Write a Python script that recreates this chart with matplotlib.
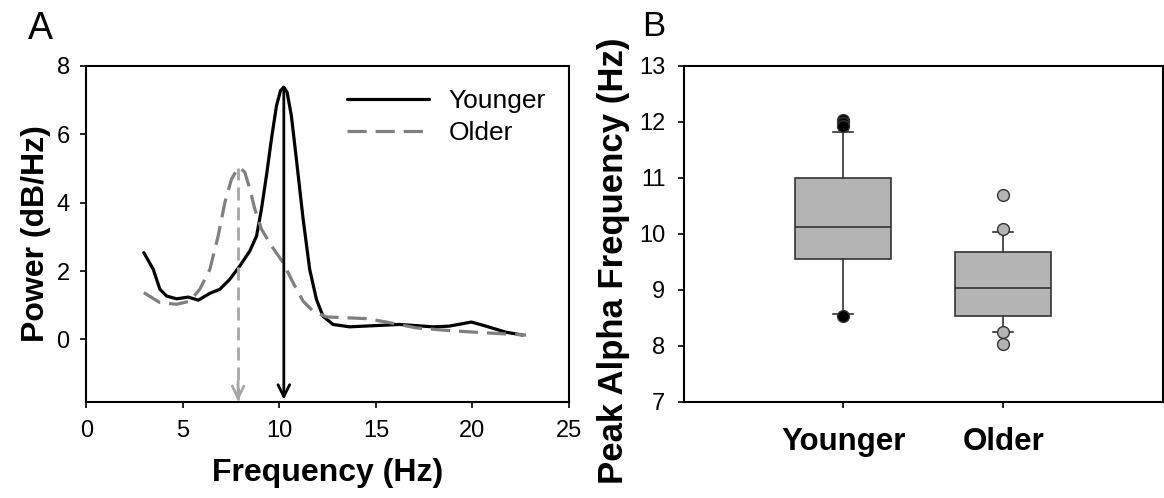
import numpy as np
import matplotlib
matplotlib.use("Agg")
import matplotlib.pyplot as plt

plt.rcParams['font.family'] = ['Liberation Sans', 'DejaVu Sans']

# ---------------- Data: panel A (power spectra) ----------------
young_freq = [2.98, 3.47, 3.81, 4.16, 4.68, 5.28, 5.8, 6.4, 6.92, 7.43, 7.95, 8.47, 8.82,
              9.07, 9.33, 9.59, 9.85, 10.06, 10.23, 10.4, 10.62, 10.88, 11.23, 11.57, 11.92,
              12.26, 12.78, 13.64, 16.23, 17.95, 18.8, 19.94, 20.7, 21.75, 22.6]
young_power = [2.54, 2.05, 1.47, 1.27, 1.19, 1.24, 1.15, 1.35, 1.47, 1.76, 2.15, 2.59, 3.03,
               3.81, 4.79, 5.87, 6.84, 7.28, 7.38, 7.23, 6.55, 5.28, 3.52, 2.05, 1.17,
               0.68, 0.44, 0.37, 0.44, 0.37, 0.39, 0.51, 0.39, 0.21, 0.13]
old_freq = [2.98, 3.81, 4.68, 5.36, 5.88, 6.4, 6.83, 7.18, 7.52, 7.78, 7.95, 8.21, 8.47,
            8.73, 9.07, 9.59, 10.19, 10.71, 11.23, 11.74, 12.44, 14.5, 15.54, 17.09, 18.8,
            20.5, 22.78]
old_power = [1.37, 1.08, 1.03, 1.12, 1.47, 2.05, 3.03, 4.01, 4.69, 4.94, 5.03, 4.89, 4.4,
             3.81, 3.23, 2.74, 2.25, 1.66, 1.12, 0.83, 0.66, 0.61, 0.51, 0.34, 0.26,
             0.2, 0.13]
young_peak_freq = 10.23
old_peak_freq = 7.86

# ---------------- Data: panel B (peak alpha frequency boxplots) ----------------
groups = ['Younger', 'Older']
q1 = [9.55, 8.54]
med = [10.13, 9.03]
q3 = [10.99, 9.67]
whislo = [8.57, 8.25]
whishi = [11.82, 10.03]
fliers = [[12.03, 11.99, 11.93, 8.53], [10.69, 10.09, 8.25, 8.04]]

W, H = 1164, 498
fig = plt.figure(figsize=(W / 100, H / 100), dpi=100)

def fx(px):
    return px / W

def fy(py):
    return 1 - py / H

top_px, bot_px = 66, 401.7
axA = fig.add_axes([fx(86.3), fy(bot_px), fx(569) - fx(86.3), (bot_px - top_px) / H])
axB = fig.add_axes([fx(683.5), fy(bot_px), fx(1163) - fx(683.5), (bot_px - top_px) / H])

# ---------- Panel A ----------
axA.plot(young_freq, young_power, color='black', lw=2.3, label='Younger',
         solid_capstyle='round', solid_joinstyle='round')
axA.plot(old_freq, old_power, color='#7f7f7f', lw=2.3, linestyle=(0, (6, 2.8)), label='Older')

ymin = -1.82
arrow_bottom = -1.76
# Older arrow (light gray dashed)
op = max(old_power)
axA.vlines(old_peak_freq, ymin + 0.05, op, colors='#a6a6a6', lw=2.0, linestyles=(0, (4.7, 2.5)))
axA.annotate('', xy=(old_peak_freq, ymin + 0.02), xytext=(old_peak_freq, ymin + 0.6),
             arrowprops=dict(arrowstyle='->,head_width=0.42,head_length=0.85', lw=2.0,
                             color='#a6a6a6', shrinkA=0, shrinkB=0))
# Younger arrow (black solid)
yp = max(young_power)
axA.annotate('', xy=(young_peak_freq, arrow_bottom), xytext=(young_peak_freq, yp),
             arrowprops=dict(arrowstyle='->,head_width=0.42,head_length=0.85', lw=2.0,
                             color='black', shrinkA=0, shrinkB=0))

axA.set_xlim(0, 25)
axA.set_ylim(ymin, 8)
axA.set_xticks([0, 5, 10, 15, 20, 25])
axA.set_yticks([0, 2, 4, 6, 8])
axA.tick_params(direction='out', length=4, width=1.2, labelsize=17, pad=8)
axA.tick_params(axis='x', pad=9)
for s in axA.spines.values():
    s.set_linewidth(1.5)
axA.set_xlabel('Frequency (Hz)', fontsize=23, fontweight='bold', labelpad=12)
axA.set_ylabel('Power (dB/Hz)', fontsize=23, fontweight='bold', labelpad=4)
leg = axA.legend(loc='upper left', bbox_to_anchor=(0.54, 0.932), frameon=False, fontsize=19,
                 borderpad=0, handlelength=3.1, handletextpad=0.75, labelspacing=0.3,
                 borderaxespad=0)

# ---------- Panel B ----------
face = '#b4b4b4'
edge = '#333333'
for i, g in enumerate(groups):
    stats = [dict(med=med[i], q1=q1[i], q3=q3[i], whislo=whislo[i], whishi=whishi[i],
                  fliers=fliers[i], label=g)]
    fc = 'black' if i == 0 else face
    axB.bxp(stats, positions=[i + 1], widths=0.6, patch_artist=True, capwidths=0.125,
            boxprops=dict(facecolor=face, edgecolor=edge, linewidth=1.2),
            medianprops=dict(color=edge, linewidth=1.2),
            whiskerprops=dict(color=edge, linewidth=1.2),
            capprops=dict(color=edge, linewidth=1.2),
            flierprops=dict(marker='o', markerfacecolor=fc, markeredgecolor=edge,
                            markersize=8.5, markeredgewidth=1.0, linestyle='none'))

axB.set_xlim(0, 3)
axB.set_ylim(7, 13)
axB.set_xticks([1, 2])
axB.set_xticklabels(groups, fontsize=22.5, fontweight='bold')
axB.set_yticks([7, 8, 9, 10, 11, 12, 13])
axB.tick_params(axis='y', direction='out', length=4, width=1.2, labelsize=17, pad=9)
axB.tick_params(axis='x', direction='out', length=4, width=1.2, pad=14)
for s in axB.spines.values():
    s.set_linewidth(1.5)
axB.set_ylabel('Peak Alpha Frequency (Hz)', fontsize=25, fontweight='bold', labelpad=6)
axB.yaxis.set_label_coords((630 - 683.5) / (1163 - 683.5), 0.42)

fig.text(fx(40), fy(29), 'A', fontsize=27, ha='center', va='center')
fig.text(fx(654), fy(26), 'B', fontsize=25, ha='center', va='center')

fig.savefig('out.png', dpi=100)
